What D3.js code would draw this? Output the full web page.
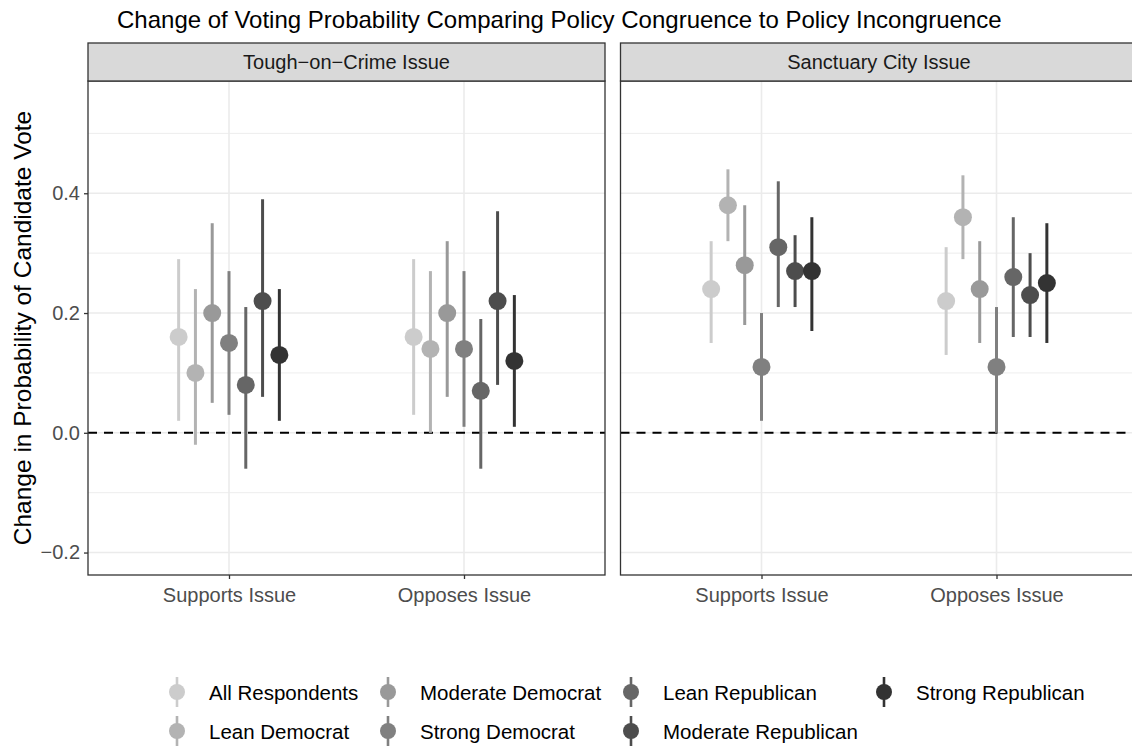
<!DOCTYPE html>
<html>
<head>
<meta charset="utf-8">
<script src="https://cdn.jsdelivr.net/npm/d3@7"></script>
<style>
  html, body { margin: 0; padding: 0; background: #fff; }
  svg { display: block; font-family: "Liberation Sans", Arial, Helvetica, sans-serif; }
</style>
</head>
<body>
<svg id="chart" width="1132" height="749"></svg>
<script>
// ---- data ----
const facets = ["Tough\u2212on\u2212Crime Issue", "Sanctuary City Issue"];
const categories = ["Supports Issue", "Opposes Issue"];
const groups = ["All Respondents", "Lean Democrat", "Moderate Democrat", "Strong Democrat",
                "Lean Republican", "Moderate Republican", "Strong Republican"];
const groupColors = ["#cccccc", "#b3b3b3", "#999999", "#808080", "#666666", "#4d4d4d", "#333333"];

// Tough-on-crime issue
const crimeSupportEst = [0.16, 0.10, 0.20, 0.15, 0.08, 0.22, 0.13];
const crimeSupportLo  = [0.02, -0.02, 0.05, 0.03, -0.06, 0.06, 0.02];
const crimeSupportHi  = [0.29, 0.24, 0.35, 0.27, 0.21, 0.39, 0.24];
const crimeOpposeEst  = [0.16, 0.14, 0.20, 0.14, 0.07, 0.22, 0.12];
const crimeOpposeLo   = [0.03, 0.00, 0.06, 0.01, -0.06, 0.08, 0.01];
const crimeOpposeHi   = [0.29, 0.27, 0.32, 0.27, 0.19, 0.37, 0.23];

// Sanctuary city issue
const sanctSupportEst = [0.24, 0.38, 0.28, 0.11, 0.31, 0.27, 0.27];
const sanctSupportLo  = [0.15, 0.32, 0.18, 0.02, 0.21, 0.21, 0.17];
const sanctSupportHi  = [0.32, 0.44, 0.38, 0.20, 0.42, 0.33, 0.36];
const sanctOpposeEst  = [0.22, 0.36, 0.24, 0.11, 0.26, 0.23, 0.25];
const sanctOpposeLo   = [0.13, 0.29, 0.15, 0.00, 0.16, 0.16, 0.15];
const sanctOpposeHi   = [0.31, 0.43, 0.32, 0.21, 0.36, 0.30, 0.35];

const yTicks = [-0.2, 0.0, 0.2, 0.4];
const yMinorTicks = [-0.1, 0.1, 0.3, 0.5];
const yLimits = [-0.2, 0.55];

const titleText = "Change of Voting Probability Comparing Policy Congruence to Policy Incongruence";
const yTitle = "Change in Probability of Candidate Vote";

// long-format rows built from the arrays above
const series = [
  [facets[0], categories[0], crimeSupportEst, crimeSupportLo, crimeSupportHi],
  [facets[0], categories[1], crimeOpposeEst, crimeOpposeLo, crimeOpposeHi],
  [facets[1], categories[0], sanctSupportEst, sanctSupportLo, sanctSupportHi],
  [facets[1], categories[1], sanctOpposeEst, sanctOpposeLo, sanctOpposeHi]
];
const rows = [];
series.forEach(([facet, cat, est, lo, hi]) => {
  groups.forEach((g, i) => rows.push({ facet, cat, group: g, gi: i, est: est[i], lo: lo[i], hi: hi[i] }));
});

// ---- layout ----
const svg = d3.select("#chart");
const panelW = 517;
const panelX = [88, 620.5];
const stripTop = 43, panelTop = 81, panelBottom = 575;
const fontTick = 20, fontStrip = 20, fontLegend = 20.5;

const expand = (yLimits[1] - yLimits[0]) * 0.05;
const y = d3.scaleLinear()
  .domain([yLimits[0] - expand, yLimits[1] + expand])
  .range([panelBottom, panelTop]);

const color = d3.scaleOrdinal().domain(groups).range(groupColors);
const dodgeWidth = 0.5;

// title
svg.append("text")
  .attr("x", 117).attr("y", 28)
  .attr("font-size", 24).attr("fill", "#000")
  .text(titleText);

// y axis title
svg.append("text")
  .attr("transform", `translate(31,${(panelTop + panelBottom) / 2}) rotate(-90)`)
  .attr("text-anchor", "middle")
  .attr("font-size", 24.5).attr("fill", "#000")
  .text(yTitle);

facets.forEach((facet, fi) => {
  const x0 = panelX[fi];
  const x = d3.scalePoint().domain(categories).range([x0, x0 + panelW]).padding(0.6);
  const step = x.step();
  const g = svg.append("g");

  // minor grid
  g.selectAll(".minor").data(yMinorTicks).join("line")
    .attr("x1", x0).attr("x2", x0 + panelW)
    .attr("y1", d => y(d)).attr("y2", d => y(d))
    .attr("stroke", "#ebebeb").attr("stroke-width", 0.9);
  // major grid
  g.selectAll(".major").data(yTicks).join("line")
    .attr("x1", x0).attr("x2", x0 + panelW)
    .attr("y1", d => y(d)).attr("y2", d => y(d))
    .attr("stroke", "#ebebeb").attr("stroke-width", 1.6);
  g.selectAll(".majorx").data(categories).join("line")
    .attr("x1", d => x(d)).attr("x2", d => x(d))
    .attr("y1", panelTop).attr("y2", panelBottom)
    .attr("stroke", "#ebebeb").attr("stroke-width", 1.6);

  // reference line at zero
  g.append("line")
    .attr("x1", x0).attr("x2", x0 + panelW)
    .attr("y1", y(0)).attr("y2", y(0))
    .attr("stroke", "#000").attr("stroke-width", 2)
    .attr("stroke-dasharray", "9,7");

  // point ranges (dodged)
  const data = rows.filter(r => r.facet === facet);
  const px = r => x(r.cat) + (r.gi - (groups.length - 1) / 2) * (dodgeWidth * step / groups.length);
  const pr = g.selectAll(".pr").data(data).join("g");
  pr.append("line")
    .attr("x1", px).attr("x2", px)
    .attr("y1", r => y(r.lo)).attr("y2", r => y(r.hi))
    .attr("stroke", r => color(r.group)).attr("stroke-width", 3);
  pr.append("circle")
    .attr("cx", px).attr("cy", r => y(r.est)).attr("r", 9)
    .attr("fill", r => color(r.group));

  // panel border
  g.append("rect")
    .attr("x", x0).attr("y", panelTop).attr("width", panelW).attr("height", panelBottom - panelTop)
    .attr("fill", "none").attr("stroke", "#333").attr("stroke-width", 1.3);

  // strip
  g.append("rect")
    .attr("x", x0).attr("y", stripTop).attr("width", panelW).attr("height", panelTop - stripTop)
    .attr("fill", "#d9d9d9").attr("stroke", "#333").attr("stroke-width", 1.3);
  g.append("text")
    .attr("x", x0 + panelW / 2).attr("y", (stripTop + panelTop) / 2)
    .attr("text-anchor", "middle").attr("dominant-baseline", "central")
    .attr("font-size", fontStrip).attr("fill", "#1a1a1a")
    .text(facet);

  // x axis
  const xAxis = g.append("g")
    .attr("transform", `translate(0,${panelBottom})`)
    .call(d3.axisBottom(x).tickSize(4).tickPadding(9));
  xAxis.select(".domain").remove();
  xAxis.selectAll(".tick line").attr("stroke", "#333").attr("stroke-width", 1.3);
  xAxis.selectAll(".tick text")
    .attr("font-size", fontTick).attr("fill", "#4d4d4d")
    .attr("font-family", "Liberation Sans, Arial, sans-serif");

  // y axis on first panel only
  if (fi === 0) {
    const yAxis = g.append("g")
      .attr("transform", `translate(${x0},0)`)
      .call(d3.axisLeft(y).tickValues(yTicks).tickFormat(d3.format(".1f")).tickSize(4).tickPadding(4));
    yAxis.select(".domain").remove();
    yAxis.selectAll(".tick line").attr("stroke", "#333").attr("stroke-width", 1.3);
    yAxis.selectAll(".tick text")
      .attr("font-size", fontTick).attr("fill", "#4d4d4d")
      .attr("font-family", "Liberation Sans, Arial, sans-serif");
  }
});

// ---- legend (column-major, 2 rows) ----
const legendColX = [177, 388, 631, 884];
const legendRowY = [692, 731];
const legend = svg.append("g");
groups.forEach((gname, i) => {
  const col = Math.floor(i / 2), row = i % 2;
  const cx = legendColX[col], cy = legendRowY[row];
  const item = legend.append("g");
  item.append("line")
    .attr("x1", cx).attr("x2", cx).attr("y1", cy - 15).attr("y2", cy + 15)
    .attr("stroke", color(gname)).attr("stroke-width", 2.6);
  item.append("circle")
    .attr("cx", cx).attr("cy", cy).attr("r", 8)
    .attr("fill", color(gname));
  item.append("text")
    .attr("x", cx + 32).attr("y", cy)
    .attr("dominant-baseline", "central")
    .attr("font-size", fontLegend).attr("fill", "#000")
    .text(gname);
});
</script>
</body>
</html>
